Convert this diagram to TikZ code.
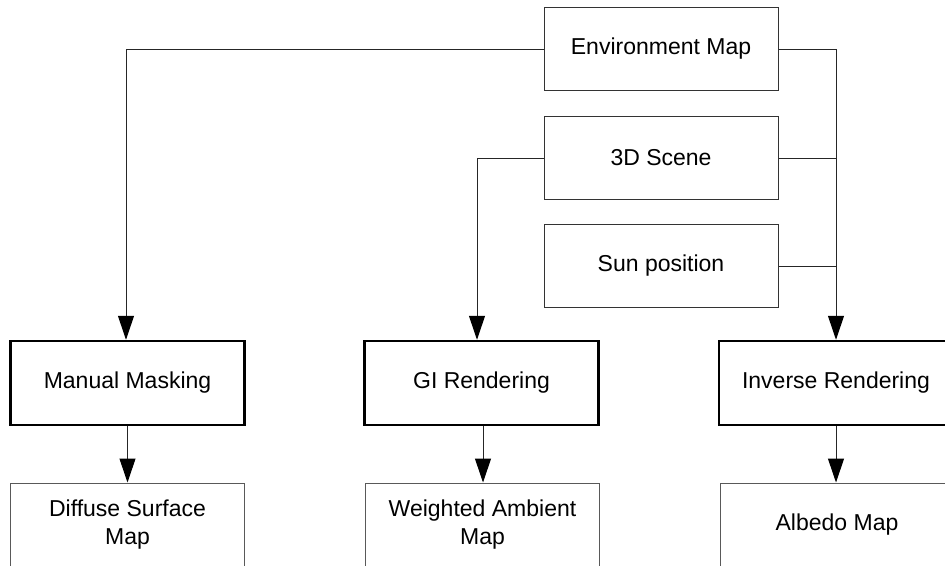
\documentclass[tikz,border=0pt]{standalone}
\usepackage{fontspec}
\setmainfont{Liberation Sans}
\usetikzlibrary{arrows.meta}
\begin{document}
\begin{tikzpicture}[x=1pt,y=1pt,
  every node/.style={font=\fontsize{23}{28}\selectfont},
  srcbox/.style={draw=black!80,line width=1pt,minimum width=234pt,minimum height=83pt,inner sep=0pt},
  procbox/.style={draw=black,line width=2.5pt,minimum width=234pt,minimum height=84pt,inner sep=0pt},
  outbox/.style={draw=black!65,line width=1pt,minimum width=234pt,minimum height=84pt,inner sep=0pt,align=center},
  conn/.style={draw=black!85,line width=1pt},
  arr/.style={conn,-{Triangle[length=24pt,width=16pt,color=black]}}]
\useasboundingbox (0,0) rectangle (945,-565);
\begin{scope}
\clip (0,0) rectangle (945,-565);
\node[srcbox] (env) at (661,-49) {Environment Map};
\node[srcbox] (scene) at (661,-158) {3D Scene};
\node[srcbox] (sun) at (661,-266) {Sun position};
\node[procbox] (mm) at (127.5,-383) {Manual Masking};
\node[procbox] (gi) at (481.5,-383) {GI Rendering};
\node[procbox] (ir) at (836,-383) {Inverse Rendering};
\node[outbox] (dsm) at (127.5,-525) {Diffuse Surface\\Map};
\node[outbox] (wam) at (482.5,-525) {Weighted Ambient\\Map};
\node[outbox] (alb) at (837,-525) {Albedo Map};
\draw[arr] (env.west) -| ([xshift=-1.5pt]mm.north);
\draw[arr] (scene.west) -| ([xshift=-4.5pt]gi.north);
\draw[arr] (env.east) -| (ir.north);
\draw[conn] (scene.east) -- (scene.east -| ir.north);
\draw[conn] (sun.east) -- (sun.east -| ir.north);
\draw[arr] (mm.south) -- (dsm.north);
\draw[arr] ([xshift=1.5pt]gi.south) -- ([xshift=0.5pt]wam.north);
\draw[arr] (ir.south) -- ([xshift=-1pt]alb.north);
\end{scope}
\end{tikzpicture}
\end{document}
